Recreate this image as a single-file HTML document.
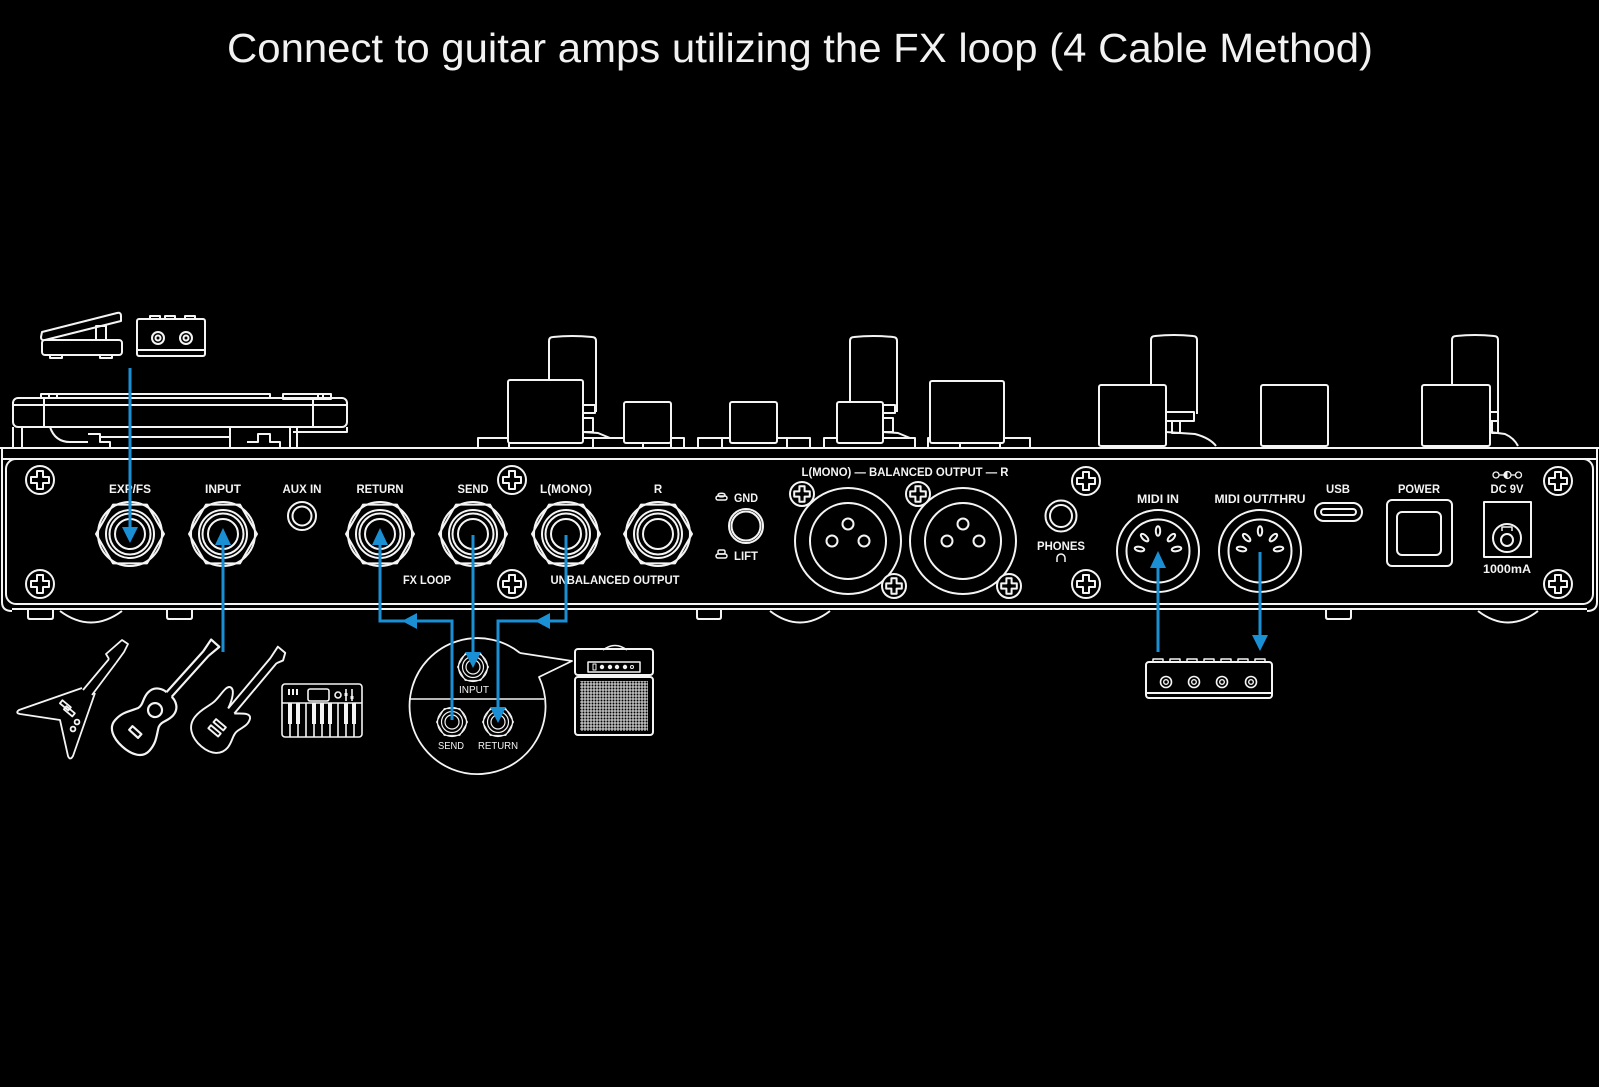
<!DOCTYPE html>
<html><head><meta charset="utf-8"><style>
html,body{margin:0;padding:0;background:#000;}
svg{display:block}
</style></head><body>
<svg width="1599" height="1087" viewBox="0 0 1599 1087" xmlns="http://www.w3.org/2000/svg">
<defs>
<g id="screw"><circle r="14"/><path d="M-3 -9H3V-3H9V3H3V9H-3V3H-9V-3H-3Z"/></g>
<g id="screwS"><circle r="12"/><path d="M-2.6 -7.8H2.6V-2.6H7.8V2.6H2.6V7.8H-2.6V2.6H-7.8V-2.6H-2.6Z"/></g>
<g id="jack"><polygon points="34,0 17,29.4 -17,29.4 -34,0 -17,-29.4 17,-29.4"/><circle r="32"/><circle r="24"/><circle r="20.5"/><circle r="15"/></g>
<g id="sjack"><polygon points="15.5,0 7.8,13.4 -7.8,13.4 -15.5,0 -7.8,-13.4 7.8,-13.4" stroke-width="1"/><circle r="14.5" stroke-width="1.2"/><circle r="10.5" stroke-width="1.2"/><circle r="7" stroke-width="1.2"/></g>
<g id="midi"><circle r="41"/><circle r="31.5"/>
<ellipse cx="0" cy="-20" rx="2.2" ry="4.8"/>
<ellipse cx="-13.4" cy="-13.4" rx="2.2" ry="4.8" transform="rotate(-45 -13.4 -13.4)"/>
<ellipse cx="13.4" cy="-13.4" rx="2.2" ry="4.8" transform="rotate(45 13.4 -13.4)"/>
<ellipse cx="-18.5" cy="-2" rx="2.2" ry="4.8" transform="rotate(-80 -18.5 -2)"/>
<ellipse cx="18.5" cy="-2" rx="2.2" ry="4.8" transform="rotate(80 18.5 -2)"/>
</g>
<g id="xlr"><circle r="53"/><circle r="38"/><circle cx="0" cy="-17" r="5.5"/><circle cx="-16" cy="0" r="5.5"/><circle cx="16" cy="0" r="5.5"/></g>
<pattern id="grill" width="3" height="3" patternUnits="userSpaceOnUse"><rect width="3" height="3" fill="#bdbdbd"/><circle cx="1.5" cy="1.5" r="0.95" fill="#000"/></pattern>
</defs>
<rect width="1599" height="1087" fill="#000"/>

<text x="227" y="62" font-family="Liberation Sans, sans-serif" font-size="41" fill="#f2f2f2" textLength="1146" lengthAdjust="spacingAndGlyphs">Connect to guitar amps utilizing the FX loop (4 Cable Method)</text>

<g fill="none" stroke="#f4f4f4" stroke-width="2" stroke-linejoin="round">
<!-- expression pedal -->
<path d="M42 332 L117 313 Q121 312 121 316 L121 321 L45 340 Q41 341 41 337 Z"/>
<rect x="96" y="326" width="10" height="14"/>
<rect x="42" y="340" width="80" height="15" rx="3" fill="#000"/>
<rect x="50" y="355" width="12" height="3"/><rect x="100" y="355" width="12" height="3"/>
<!-- footswitch -->
<rect x="150" y="316" width="10" height="3"/><rect x="165" y="316" width="10" height="3"/><rect x="185" y="316" width="10" height="3"/>
<rect x="137" y="319" width="68" height="37" rx="2"/>
<line x1="137" y1="350" x2="205" y2="350"/>
<circle cx="158" cy="338" r="6"/><circle cx="158" cy="338" r="2.5"/>
<circle cx="186" cy="338" r="6"/><circle cx="186" cy="338" r="2.5"/>

<!-- top-left deck -->
<rect x="41" y="394" width="229" height="4"/>
<line x1="49" y1="394" x2="49" y2="398"/><line x1="57" y1="394" x2="57" y2="398"/>
<rect x="283" y="394" width="48" height="5"/>
<line x1="318" y1="394" x2="318" y2="399"/><line x1="323" y1="394" x2="323" y2="399"/>
<rect x="13" y="398" width="334" height="29" rx="5"/>
<line x1="14" y1="405" x2="346" y2="405"/>
<line x1="44" y1="398" x2="44" y2="427"/><line x1="313" y1="398" x2="313" y2="427"/>
<path d="M13 427 V448 M22 427 V448 M50 427 Q55 442 70 442 H88 M88 434 H100 V442 H110 V448 M100 437 H230 M230 427 V448 M247 442 H258 V434 H270 V442 H280 V448 M290 427 V448 M297 427 V448 M293 432 H347 V427"/>

<!-- knobs -->
<rect x="478" y="438" width="206" height="10"/>
<path d="M509 438V448 M593 438V448 M643 438V448 M671 438V448"/>
<path d="M549 412 V341 Q549 337 553 337 Q572 335 592 337 Q596 337 596 341 V412" fill="#000"/>
<rect x="583" y="405" width="12" height="8"/><rect x="583" y="418" width="10" height="14"/>
<path d="M583 432 L598 433 L610 438"/>
<rect x="508" y="380" width="75" height="63" rx="2" fill="#000"/>
<rect x="624" y="402" width="47" height="41" rx="2" fill="#000"/>

<rect x="698" y="438" width="112" height="10"/>
<path d="M722 438V448 M787 438V448"/>
<rect x="730" y="402" width="47" height="41" rx="2" fill="#000"/>

<rect x="824" y="438" width="91" height="10"/>
<path d="M850 412 V341 Q850 337 854 337 Q873 335 893 337 Q897 337 897 341 V412" fill="#000"/>
<rect x="883" y="405" width="12" height="8"/><rect x="883" y="418" width="10" height="14"/>
<path d="M883 432 L898 433 L910 438"/>
<rect x="837" y="402" width="46" height="41" rx="2" fill="#000"/>

<rect x="928" y="438" width="102" height="10"/>
<path d="M960 438V448 M1000 438V448"/>
<rect x="930" y="381" width="74" height="62" rx="2" fill="#000"/>

<path d="M1151 414 V340 Q1151 336 1155 336 Q1174 334 1193 336 Q1197 336 1197 340 V414" fill="#000"/>
<rect x="1166" y="412" width="28" height="9"/><rect x="1172" y="421" width="8" height="12"/>
<path d="M1166 432 L1195 434 Q1210 438 1216 446"/>
<rect x="1099" y="385" width="67" height="61" rx="2" fill="#000"/>

<rect x="1261" y="385" width="67" height="61" rx="2" fill="#000"/>

<path d="M1452 414 V340 Q1452 336 1456 336 Q1475 334 1494 336 Q1498 336 1498 340 V414" fill="#000"/>
<rect x="1490" y="412" width="8" height="9"/><rect x="1492" y="421" width="6" height="12"/>
<path d="M1490 432 L1505 434 Q1514 438 1518 446"/>
<rect x="1422" y="385" width="68" height="61" rx="2" fill="#000"/>

<!-- device body -->
<line x1="0" y1="448" x2="1599" y2="448"/>
<line x1="3" y1="459" x2="1596" y2="459"/>
<path d="M2 448 V602 Q2 611 12 611"/>
<path d="M1597 448 V602 Q1597 611 1587 611"/>
<rect x="6" y="459" width="1587" height="145" rx="10"/>
<line x1="12" y1="609" x2="1587" y2="609"/>
<!-- feet -->
<path d="M28 610 V617 Q28 619 30 619 H51 Q53 619 53 617 V610"/>
<path d="M60 611 Q91 634 122 611"/>
<path d="M167 610 V617 Q167 619 169 619 H190 Q192 619 192 617 V610"/>
<path d="M697 610 V617 Q697 619 699 619 H719 Q721 619 721 617 V610"/>
<path d="M770 611 Q800 634 830 611"/>
<path d="M1326 610 V617 Q1326 619 1328 619 H1349 Q1351 619 1351 617 V610"/>
<path d="M1478 611 Q1508 634 1538 611"/>

<!-- screws -->
<use href="#screw" transform="translate(40 480)"/>
<use href="#screw" transform="translate(40 584)"/>
<use href="#screw" transform="translate(512 480)"/>
<use href="#screw" transform="translate(512 584)"/>
<use href="#screw" transform="translate(1086 481)"/>
<use href="#screw" transform="translate(1086 584)"/>
<use href="#screw" transform="translate(1558 481)"/>
<use href="#screw" transform="translate(1558 584)"/>

<!-- jacks -->
<use href="#jack" transform="translate(130 534)"/>
<use href="#jack" transform="translate(223 534)"/>
<use href="#jack" transform="translate(380 534)"/>
<use href="#jack" transform="translate(473 534)"/>
<use href="#jack" transform="translate(566 534)"/>
<use href="#jack" transform="translate(658 534)"/>
<circle cx="302" cy="516" r="14"/><circle cx="302" cy="516" r="9.5"/>

<!-- gnd lift -->
<circle cx="746" cy="526" r="17"/><circle cx="746" cy="526" r="14.5"/>
<rect x="716" y="496" width="11" height="4" rx="2" stroke-width="1.5"/>
<ellipse cx="721.5" cy="495" rx="3.5" ry="1.8" stroke-width="1.5"/>
<rect x="716" y="554" width="11" height="4" rx="2" stroke-width="1.5"/>
<rect x="718" y="550" width="7" height="4" rx="1.5" stroke-width="1.5"/>

<!-- xlr -->
<use href="#xlr" transform="translate(848 541)"/>
<use href="#xlr" transform="translate(963 541)"/>
<use href="#screwS" transform="translate(802 494)" fill="#000"/>
<use href="#screwS" transform="translate(894 586)" fill="#000"/>
<use href="#screwS" transform="translate(918 494)" fill="#000"/>
<use href="#screwS" transform="translate(1009 586)" fill="#000"/>

<!-- phones -->
<circle cx="1061" cy="516" r="15.5"/><circle cx="1061" cy="516" r="11"/>
<path d="M1057 562 V558 A4 4 0 0 1 1065 558 V562" stroke-width="1.5"/>

<!-- midi -->
<use href="#midi" transform="translate(1158 551)"/>
<use href="#midi" transform="translate(1260 551)"/>

<!-- usb power dc -->
<rect x="1315" y="503" width="47" height="18" rx="9"/>
<rect x="1321" y="509" width="35" height="6" rx="3"/>
<rect x="1387" y="500" width="65" height="66" rx="5"/>
<rect x="1397" y="512" width="44" height="43" rx="5"/>
<rect x="1484" y="502" width="47" height="55"/>
<circle cx="1507" cy="538" r="14"/>
<circle cx="1507" cy="540" r="6"/>
<path d="M1502 531 V527 H1512 V531" stroke-width="1.5"/>
<g stroke-width="1.3"><circle cx="1496" cy="475" r="3"/><line x1="1499" y1="475" x2="1504" y2="475"/><circle cx="1507.5" cy="475" r="3.5"/><line x1="1511" y1="475" x2="1515" y2="475"/><circle cx="1518.5" cy="475" r="3"/></g>
<path d="M1507.5 471.5 A3.5 3.5 0 0 0 1507.5 478.5 Z" fill="#f4f4f4" stroke="none"/>

<!-- bubble -->
<path d="M520 653 L572 661 L539 677 A68 68 0 1 1 520 653" stroke-width="1.8"/>
<line x1="409" y1="699" x2="544" y2="699" stroke-width="1.5"/>
<use href="#sjack" transform="translate(473 667)"/>
<use href="#sjack" transform="translate(452 722)"/>
<use href="#sjack" transform="translate(498 722)"/>

<!-- amp -->
<path d="M603 650 Q615 641 627 650" stroke-width="1.5"/>
<rect x="575" y="649" width="78" height="26" rx="3"/>
<rect x="588" y="662" width="52" height="10" stroke-width="1.5"/>
<rect x="593" y="664" width="3" height="6" stroke-width="1"/>
<circle cx="602" cy="667" r="2.2" fill="#f4f4f4" stroke="none"/>
<circle cx="610" cy="667" r="2.2" fill="#f4f4f4" stroke="none"/>
<circle cx="617" cy="667" r="2.2" fill="#f4f4f4" stroke="none"/>
<circle cx="625" cy="667" r="2.2" fill="#f4f4f4" stroke="none"/>
<circle cx="632" cy="667" r="1.5" stroke-width="1"/>
<rect x="575" y="677" width="78" height="58" rx="3"/>
<rect x="580" y="681" width="68" height="50" fill="url(#grill)" stroke="none"/>

<!-- midi box -->
<path d="M1153 662V659H1163V662 M1170 662V659H1180V662 M1187 662V659H1197V662 M1204 662V659H1214V662 M1221 662V659H1231V662 M1238 662V659H1248V662 M1255 662V659H1265V662" stroke-width="1.5"/>
<rect x="1146" y="662" width="126" height="36" rx="3"/>
<line x1="1146" y1="693" x2="1272" y2="693"/>
<circle cx="1166" cy="682" r="5.5" stroke-width="1.6"/><circle cx="1166" cy="682" r="2.3" stroke-width="1.4"/>
<circle cx="1194" cy="682" r="5.5" stroke-width="1.6"/><circle cx="1194" cy="682" r="2.3" stroke-width="1.4"/>
<circle cx="1222" cy="682" r="5.5" stroke-width="1.6"/><circle cx="1222" cy="682" r="2.3" stroke-width="1.4"/>
<circle cx="1251" cy="682" r="5.5" stroke-width="1.6"/><circle cx="1251" cy="682" r="2.3" stroke-width="1.4"/>

<!-- flying V -->
<g stroke-width="1.8">
<path d="M82 688 L19 710 Q15 713 20 714 L60 720 L68 756 Q70 761 73 756 L95 693"/>
<path d="M83 690 L109 659 M92 695 L116 663"/>
<path d="M109 659 L106 654 L122 640 L128 644 L124 652 L116 663"/>
<rect x="60" y="703" width="11" height="4" transform="rotate(40 65 705)"/>
<rect x="64" y="709" width="11" height="4" transform="rotate(40 69 711)"/>
<circle cx="77" cy="722" r="2.4"/><circle cx="73" cy="729" r="2.4"/>
</g>
<!-- acoustic -->
<g transform="translate(147 719) rotate(42)" stroke-width="2.2">
<path d="M-3.5 -33 C-8 -33 -17 -30 -17 -20 C-17 -12 -12 -8 -14 -2 C-18 6 -23 11 -23 22 C-23 32 -13 37 0 37 C13 37 23 32 23 22 C23 11 18 6 14 -2 C12 -8 17 -12 17 -20 C17 -30 8 -33 3.5 -33"/>
<circle cx="0" cy="-12" r="7"/>
<rect x="-6" y="15" width="12" height="5"/>
<path d="M-3.5 -33 V-88 M3.5 -33 V-88 M-3.5 -88 L-5.5 -102 H5.5 L3.5 -88"/>
</g>
<!-- electric -->
<g transform="translate(222 722) rotate(40) scale(0.8)" stroke-width="2.4">
<path d="M-5 -18 C-8 -30 -14 -42 -20 -40 C-26 -38 -22 -22 -24 -12 C-26 -2 -30 4 -30 16 C-30 32 -16 40 0 40 C16 40 26 32 26 20 C26 10 20 4 22 -4 C24 -12 28 -18 24 -26 C20 -32 12 -24 5 -18"/>
<path d="M-5 -18 V-100 M5 -18 V-100 M-5 -100 L-7 -117 H5 L9 -108 L5 -100"/>
<rect x="-8" y="2" width="16" height="5"/>
<rect x="-8" y="12" width="16" height="5"/>
</g>
<!-- keyboard -->
<g stroke-width="1.6">
<rect x="282" y="684" width="80" height="53" rx="3"/>
<line x1="282" y1="703" x2="362" y2="703"/>
<rect x="308" y="689" width="21" height="12" rx="2"/>
<circle cx="338" cy="695" r="3"/>
<path d="M346 689 V701 M352 689 V701"/>
<path d="M290 703V737 M298 703V737 M306 703V737 M314 703V737 M322 703V737 M330 703V737 M338 703V737 M346 703V737 M354 703V737"/>
</g>
<g fill="#f4f4f4" stroke="none">
<rect x="288" y="689" width="2" height="6"/><rect x="292" y="689" width="2" height="6"/><rect x="296" y="689" width="2" height="6"/>
<rect x="344.5" y="693" width="3" height="3"/><rect x="350.5" y="696" width="3" height="3"/>
<rect x="288" y="703" width="4" height="21"/><rect x="296" y="703" width="4" height="21"/>
<rect x="312" y="703" width="4" height="21"/><rect x="320" y="703" width="4" height="21"/><rect x="328" y="703" width="4" height="21"/>
<rect x="344" y="703" width="4" height="21"/><rect x="352" y="703" width="4" height="21"/>
</g>
</g>

<!-- labels -->
<g font-family="Liberation Sans, sans-serif" font-weight="bold" font-size="11.5" fill="#f4f4f4" text-anchor="middle" lengthAdjust="spacingAndGlyphs">
<text x="130" y="493" textLength="42" lengthAdjust="spacingAndGlyphs">EXP/FS</text>
<text x="223" y="493" textLength="36" lengthAdjust="spacingAndGlyphs">INPUT</text>
<text x="302" y="493" textLength="39" lengthAdjust="spacingAndGlyphs">AUX IN</text>
<text x="380" y="493" textLength="47" lengthAdjust="spacingAndGlyphs">RETURN</text>
<text x="473" y="493" textLength="31" lengthAdjust="spacingAndGlyphs">SEND</text>
<text x="566" y="493" textLength="52" lengthAdjust="spacingAndGlyphs">L(MONO)</text>
<text x="658" y="493">R</text>
<text x="427" y="584" textLength="48" lengthAdjust="spacingAndGlyphs">FX LOOP</text>
<text x="615" y="584" textLength="129" lengthAdjust="spacingAndGlyphs">UNBALANCED OUTPUT</text>
<text x="905" y="476" textLength="207" lengthAdjust="spacingAndGlyphs">L(MONO) — BALANCED OUTPUT — R</text>
<text x="746" y="502" textLength="24" lengthAdjust="spacingAndGlyphs">GND</text>
<text x="746" y="560" textLength="24" lengthAdjust="spacingAndGlyphs">LIFT</text>
<text x="1061" y="550" textLength="48" lengthAdjust="spacingAndGlyphs">PHONES</text>
<text x="1158" y="503" textLength="42" lengthAdjust="spacingAndGlyphs">MIDI IN</text>
<text x="1260" y="503" textLength="91" lengthAdjust="spacingAndGlyphs">MIDI OUT/THRU</text>
<text x="1338" y="493" textLength="24" lengthAdjust="spacingAndGlyphs">USB</text>
<text x="1419" y="493" textLength="42" lengthAdjust="spacingAndGlyphs">POWER</text>
<text x="1507" y="493" textLength="33" lengthAdjust="spacingAndGlyphs">DC 9V</text>
<text x="1507" y="573" textLength="48" lengthAdjust="spacingAndGlyphs">1000mA</text>
</g>
<g font-family="Liberation Sans, sans-serif" font-size="10.5" fill="#f4f4f4" text-anchor="middle">
<text x="474" y="693" textLength="30" lengthAdjust="spacingAndGlyphs">INPUT</text>
<text x="451" y="749" textLength="26" lengthAdjust="spacingAndGlyphs">SEND</text>
<text x="498" y="749" textLength="40" lengthAdjust="spacingAndGlyphs">RETURN</text>
</g>

<!-- blue connectors -->
<g stroke="#1a8fd3" stroke-width="3" fill="none">
<path d="M130 368 V530"/>
<path d="M223 652 V542"/>
<path d="M452 720 V621 H380 V542"/>
<path d="M473 535 V655"/>
<path d="M566 535 V621 H498 V710"/>
<path d="M1158 652 V565"/>
<path d="M1260 552 V638"/>
</g>
<g fill="#1a8fd3">
<polygon points="122,527 138,527 130,543"/>
<polygon points="215,545 231,545 223,528"/>
<polygon points="372,545 388,545 380,528"/>
<polygon points="402,621 417,613 417,629"/>
<polygon points="465,652 481,652 473,668"/>
<polygon points="535,621 550,613 550,629"/>
<polygon points="490,707 506,707 498,723"/>
<polygon points="1150,568 1166,568 1158,551"/>
<polygon points="1252,635 1268,635 1260,651"/>
</g>
</svg>
</body></html>
